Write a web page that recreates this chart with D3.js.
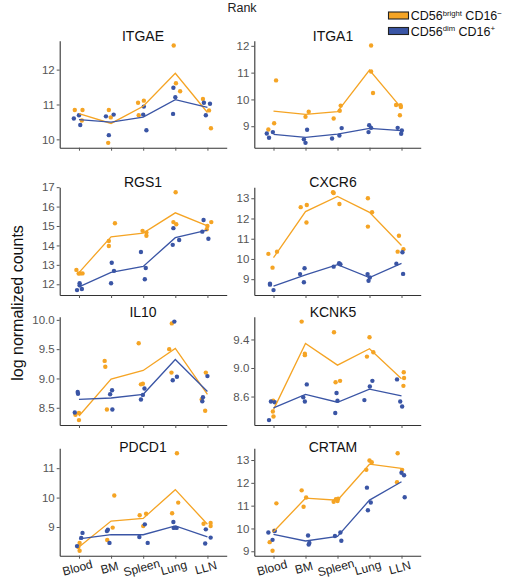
<!DOCTYPE html>
<html><head><meta charset="utf-8">
<script src="https://cdn.jsdelivr.net/npm/d3@7"></script>
<style>
body{margin:0;background:#fff}
svg{display:block;font-family:"Liberation Sans",Arial,Helvetica,sans-serif}
</style>
</head><body>
<svg id="c" width="508" height="578"></svg>
<script>
// ---------- data ----------
const tissues = ["Blood","BM","Spleen","Lung","LLN"];
const genes = ["ITGAE","ITGA1","RGS1","CXCR6","IL10","KCNK5","PDCD1","CRTAM"];
const seriesNames = ["CD56bright CD16-","CD56dim CD16+"];

// values per tissue (bright = orange, dim = blue); jitter in category-step units
const ITGAE_bright = [[10.84,10.84,10.54],[10.84,10.63,9.9],[11.05,11.11,10.69],[12.69,11.61,11.38],[11.16,10.83,10.32]];
const ITGAE_bright_jit = [[-0.13,0.11,0.09],[-0.07,-0.01,-0.09],[-0.16,0.02,-0.14],[-0.05,0.02,0.15],[-0.14,0.05,0.11]];
const ITGAE_dim = [[10.6,10.69,10.41],[10.66,10.71,10.12],[10.94,10.71,10.26],[11.48,11.21,10.73],[11.05,11.02,10.69]];
const ITGAE_dim_jit = [[-0.16,0,0.04],[-0.16,0.08,-0.07],[0.02,0,0.1],[-0.06,0,-0.07],[-0.11,0.08,-0.05]];
const ITGAE_ticks = [10,11,12];

const ITGA1_bright = [[10.71,9.11,8.88],[9.35,9.54],[9.77,9.58,9.29],[12.01,11.04,10.24],[9.79,9.78,9.72,9.41]];
const ITGA1_bright_jit = [[0.08,0.02,-0.16],[0,0.1],[0.1,0.07,-0.12],[0.05,0.05,0.11],[-0.17,-0.03,-0.02,-0.05]];
const ITGA1_dim = [[8.73,8.57,8.78],[8.87,8.51,8.38],[8.93,8.54,8.65],[9.04,8.94,8.78],[8.94,8.84,8.72]];
const ITGA1_dim_jit = [[-0.21,-0.14,-0.02],[0.05,-0.05,0],[0.13,-0.17,0.06],[-0.01,0.05,-0.03],[-0.12,0.01,-0.01]];
const ITGA1_ticks = [9,10,11,12];

const RGS1_bright = [[12.74,12.55,12.56,12.56],[14.23,13.97,15.14],[14.75,14.66,14.5],[16.74,15.2,15.09],[15.2,15.0,14.83]];
const RGS1_bright_jit = [[-0.08,-0.01,0.04,0.11],[-0.07,-0.07,0.12],[-0.02,0.1,0.1],[0.01,-0.06,0.03],[0.12,0,-0.02]];
const RGS1_dim = [[12.05,11.7,11.76,11.95],[13.11,12.69,12.05],[13.66,12.84,12.26],[14.89,14.03,14.28],[15.31,14.71,14.34]];
const RGS1_dim_jit = [[0.02,-0.06,0.09,0.02],[0.02,0.09,0],[-0.07,0.08,0.05],[-0.06,-0.08,0.12],[-0.12,-0.16,0.03]];
const RGS1_ticks = [12,13,14,15,16,17];

const CXCR6_bright = [[10.25,10.36,9.57],[12.56,12.67,11.8],[13.3,13.26,12.72],[13.0,12.31,11.6],[11.15,10.36,10.48]];
const CXCR6_bright_jit = [[-0.16,0.11,-0.03],[-0.15,0.04,0.03],[-0.14,-0.12,0.06],[-0.05,0.08,-0.05],[-0.08,-0.12,0.06]];
const CXCR6_dim = [[8.78,8.73,8.46],[9.25,9.54,8.85],[9.62,9.79,9.74],[9.25,9.08,8.92],[9.76,10.33,9.26]];
const CXCR6_dim_jit = [[-0.11,-0.11,0],[-0.17,-0.03,-0.05],[-0.12,0.05,0.09],[-0.06,0.01,-0.03],[-0.16,0.03,0.05]];
const CXCR6_ticks = [9,10,11,12,13];

const IL10_bright = [[8.38,8.41,8.29],[9.3,9.2,8.47],[9.6,8.9,8.91],[9.94,9.5,9.1],[9.1,8.64,8.45]];
const IL10_bright_jit = [[-0.11,0,0],[-0.2,-0.18,-0.13],[-0.14,-0.07,-0.01],[-0.11,-0.19,-0.12],[-0.05,-0.18,-0.07]];
const IL10_dim = [[8.42,8.77,8.74],[8.73,8.8,8.47],[8.64,8.72,8.83],[9.97,8.97,9.03],[8.61,8.68,9.04]];
const IL10_dim_jit = [[-0.13,-0.04,-0.03],[-0.03,0.03,0.04],[-0.07,-0.01,0.04],[-0.03,-0.08,0.05],[-0.16,-0.14,0]];
const IL10_ticks = [8.5,9.0,9.5,10.0];

const KCNK5_bright = [[8.54,8.39,8.32],[9.65,9.2,9.18],[9.5,8.8,8.82],[9.43,9.22,9.16],[8.94,8.86,8.75]];
const KCNK5_bright_jit = [[-0.01,-0.02,0],[-0.12,-0.02,-0.02],[-0.11,-0.06,0.08],[0,0.12,-0.08],[0.07,0.08,0.06]];
const KCNK5_dim = [[8.53,8.52,8.27],[8.77,8.59,8.53],[8.65,8.54,8.37],[8.82,8.74,8.55],[8.84,8.53,8.46]];
const KCNK5_dim_jit = [[-0.08,0.04,-0.14],[0.04,-0.07,-0.02],[-0.03,0,-0.07],[0.09,0.01,-0.16],[-0.14,-0.04,0.02]];
const KCNK5_ticks = [8.6,9.0,9.4];

const PDCD1_bright = [[8.46,8.32,8.19],[10.07,8.98,8.56],[9.4,9.45,9.03],[11.51,9.83,9.47],[9.11,9.14,9.03]];
const PDCD1_bright_jit = [[0.02,-0.02,0.02],[0.1,0.05,-0.12],[-0.11,0.09,0],[0.05,0.09,-0.1],[-0.12,0.1,0.1]];
const PDCD1_dim = [[8.35,8.8,8.63],[8.86,8.91,8.46],[9.09,8.66,8.46],[9.17,8.97,8.97],[8.92,8.64,8.44]];
const PDCD1_dim_jit = [[-0.06,0.11,0.07],[-0.13,-0.1,-0.05],[0.05,-0.12,0.14],[-0.06,-0.05,0.04],[-0.05,0.1,-0.07]];
const PDCD1_ticks = [9,10,11];

const CRTAM_bright = [[11.1,9.9,9.4,9.02],[11.67,10.95,11.36],[11.17,11.28,11.2,11.3],[12.98,12.9,12.57],[13.3,12.57,12.03]];
const CRTAM_bright_jit = [[0.09,0.02,-0.12,-0.03],[-0.12,-0.06,0.02],[-0.12,-0.05,0,0.02],[0,0.07,-0.1],[-0.12,0.02,-0.14]];
const CRTAM_dim = [[9.82,9.89,9.5],[9.69,9.36,9.3],[9.67,9.82,9.46],[11.79,11.14,10.8],[12.44,12.33,11.37]];
const CRTAM_dim_jit = [[-0.16,0.04,-0.03],[0.08,0.12,0.1],[-0.08,0.09,0.12],[-0.08,0.04,-0.05],[0,0.08,0.1]];
const CRTAM_ticks = [9,10,11,12,13];

const panels = [
  {name:"ITGAE", bright:ITGAE_bright, bj:ITGAE_bright_jit, dim:ITGAE_dim, dj:ITGAE_dim_jit, ticks:ITGAE_ticks, fmt:d3.format("d")},
  {name:"ITGA1", bright:ITGA1_bright, bj:ITGA1_bright_jit, dim:ITGA1_dim, dj:ITGA1_dim_jit, ticks:ITGA1_ticks, fmt:d3.format("d")},
  {name:"RGS1", bright:RGS1_bright, bj:RGS1_bright_jit, dim:RGS1_dim, dj:RGS1_dim_jit, ticks:RGS1_ticks, fmt:d3.format("d")},
  {name:"CXCR6", bright:CXCR6_bright, bj:CXCR6_bright_jit, dim:CXCR6_dim, dj:CXCR6_dim_jit, ticks:CXCR6_ticks, fmt:d3.format("d")},
  {name:"IL10", bright:IL10_bright, bj:IL10_bright_jit, dim:IL10_dim, dj:IL10_dim_jit, ticks:IL10_ticks, fmt:d3.format(".1f")},
  {name:"KCNK5", bright:KCNK5_bright, bj:KCNK5_bright_jit, dim:KCNK5_dim, dj:KCNK5_dim_jit, ticks:KCNK5_ticks, fmt:d3.format(".1f")},
  {name:"PDCD1", bright:PDCD1_bright, bj:PDCD1_bright_jit, dim:PDCD1_dim, dj:PDCD1_dim_jit, ticks:PDCD1_ticks, fmt:d3.format("d")},
  {name:"CRTAM", bright:CRTAM_bright, bj:CRTAM_bright_jit, dim:CRTAM_dim, dj:CRTAM_dim_jit, ticks:CRTAM_ticks, fmt:d3.format("d")}
];

// ---------- layout ----------
const ORANGE = "#F5A424", BLUE = "#3A55A5";
const cols = [{x0:59.7, x1:226.7, tx:143}, {x0:254.3, x1:420.7, tx:333}];
const rows = [{y0:40.7, y1:147.7, ty:40.7}, {y0:187.3, y1:295, ty:186.7},
              {y0:316.7, y1:425, ty:317.3}, {y0:448.3, y1:555.7, ty:451.7}];

const svg = d3.select("#c");

// top label (cut by the frame in the source; kept just inside here)
svg.append("text").attr("x",242).attr("y",12).attr("text-anchor","middle")
  .attr("font-size",12.5).attr("fill","#222").text("Rank");

// y label
svg.append("text").attr("transform","translate(23,303) rotate(-90)")
  .attr("text-anchor","middle").attr("font-size",16).attr("fill","#111")
  .text("log normalized counts");

panels.forEach((p, i) => {
  const c = cols[i % 2], r = rows[Math.floor(i / 2)];
  const x = d3.scalePoint().domain(tissues).range([c.x0, c.x1]).padding(0.6);
  const all = p.bright.flat().concat(p.dim.flat());
  const [lo, hi] = d3.extent(all);
  const pad = (hi - lo) * 0.05;
  const y = d3.scaleLinear().domain([lo - pad, hi + pad]).range([r.y1, r.y0]);
  const g = svg.append("g");

  // axes
  const ya = g.append("g").attr("transform", `translate(${c.x0},0)`)
    .call(d3.axisLeft(y).tickValues(p.ticks).tickFormat(p.fmt).tickSize(3).tickSizeOuter(0).tickPadding(2));
  ya.selectAll("text").attr("font-size", 11.5).attr("fill", "#555").attr("font-family", "inherit");
  ya.selectAll("line").attr("stroke", "#555");
  ya.select(".domain").attr("stroke", "#333").attr("stroke-width", 1.1);

  const bottom = i >= 6;
  const xa = g.append("g").attr("transform", `translate(0,${r.y1})`)
    .call(d3.axisBottom(x).tickSize(3).tickSizeOuter(0).tickFormat(bottom ? (d => d) : () => ""));
  xa.selectAll("line").attr("stroke", "#555");
  xa.select(".domain").attr("stroke", "#333").attr("stroke-width", 1.1);
  xa.selectAll("text").attr("font-size", 12).attr("fill", "#222").attr("font-family", "inherit")
    .attr("y", null).attr("dy", null).attr("text-anchor", "middle")
    .attr("transform", "translate(-1,16) rotate(-15)");

  // title
  g.append("text").attr("x", c.tx).attr("y", r.ty).attr("text-anchor", "middle")
    .attr("font-size", 14).attr("fill", "#111").text(p.name);

  const step = x.step();
  const series = [
    {vals: p.bright, jit: p.bj, color: ORANGE},
    {vals: p.dim, jit: p.dj, color: BLUE}
  ];
  series.forEach(s => {
    const pts = [];
    s.vals.forEach((arr, ti) => arr.forEach((v, k) => pts.push({t: tissues[ti], v, j: s.jit[ti][k]})));
    g.append("g").selectAll("circle").data(pts).join("circle")
      .attr("cx", d => x(d.t) + d.j * step)
      .attr("cy", d => y(d.v))
      .attr("r", 2.2)
      .attr("fill", s.color);
  });
  series.forEach(s => {
    const means = s.vals.map((arr, ti) => ({t: tissues[ti], m: d3.mean(arr)}));
    g.append("path").datum(means)
      .attr("fill", "none").attr("stroke", s.color).attr("stroke-width", 1.3)
      .attr("d", d3.line().x(d => x(d.t)).y(d => y(d.m)));
  });
});

// legend
const leg = svg.append("g");
const legY = [20, 35.5];
[ORANGE, BLUE].forEach((col, k) => {
  leg.append("rect").attr("x", 388.5).attr("y", legY[k] - 8).attr("width", 20).attr("height", 7)
    .attr("fill", col).attr("stroke", "#222").attr("stroke-width", 1.1);
});
const supers = [["bright", "\u2212"], ["dim", "+"]];
supers.forEach((s, k) => {
  const t = leg.append("text").attr("x", 410.7).attr("y", legY[k]).attr("font-size", 12.5).attr("fill", "#111");
  t.append("tspan").text("CD56");
  t.append("tspan").attr("font-size", 7.7).attr("dy", -4.5).text(s[0]);
  t.append("tspan").attr("dy", 4.5).text(" CD16");
  t.append("tspan").attr("font-size", 8).attr("dy", -4.5).text(s[1]);
});
</script>
</body></html>
